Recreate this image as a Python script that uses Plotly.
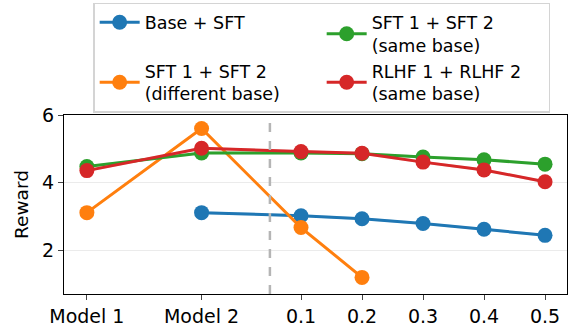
import plotly.graph_objects as go

tick_labels = ["Model 1", "Model 2", "0.1", "0.2", "0.3", "0.4", "0.5"]
x_positions = [-3.51, -1.63, 0, 1, 2, 3, 4]
divider_x = -0.51

base_sft = [None, 3.12, 3.03, 2.94, 2.80, 2.63, 2.45]
sft_diff = [3.12, 5.60, 2.68, 1.21, None, None, None]
sft_same = [4.48, 4.88, 4.88, 4.86, 4.76, 4.68, 4.55]
rlhf_same = [4.36, 5.02, 4.92, 4.87, 4.61, 4.38, 4.03]
band = 0.04

series = [
    ("Base + SFT", base_sft, "#1f77b4", 1),
    ("SFT 1 + SFT 2<br>(different base)", sft_diff, "#ff7f0e", 3),
    ("SFT 1 + SFT 2<br>(same base)", sft_same, "#2ca02c", 2),
    ("RLHF 1 + RLHF 2<br>(same base)", rlhf_same, "#d62728", 4),
]

def rgba(h, a):
    h = h.lstrip("#")
    return f"rgba({int(h[0:2],16)},{int(h[2:4],16)},{int(h[4:6],16)},{a})"

fig = go.Figure()
for name, ys, col, rank in series:
    xs = [x for x, y in zip(x_positions, ys) if y is not None]
    yv = [y for y in ys if y is not None]
    fig.add_trace(go.Scatter(x=xs + xs[::-1],
                             y=[y + band for y in yv] + [y - band for y in yv[::-1]],
                             fill="toself", fillcolor=rgba(col, 0.2), line=dict(width=0),
                             hoverinfo="skip", showlegend=False))
    fig.add_trace(go.Scatter(x=xs, y=yv, mode="lines+markers", name=name,
                             legendrank=rank,
                             line=dict(color=col, width=3),
                             marker=dict(color=col, size=15)))

fig.add_vline(x=divider_x, line=dict(color="#b5b5b5", width=2.5, dash="dash"))

font = "DejaVu Sans"
fig.update_layout(
    width=568, height=332,
    margin=dict(l=64, r=1, t=115, b=38),
    paper_bgcolor="white", plot_bgcolor="white",
    font=dict(family=font, size=18, color="black"),
    showlegend=True,
    legend=dict(orientation="h", x=0.058, y=1.626, xanchor="left", yanchor="top",
                entrywidth=172, itemwidth=40,
                bgcolor="white", bordercolor="#d4d4d4", borderwidth=1.5,
                font=dict(family=font, size=17.5), tracegroupgap=0),
    xaxis=dict(range=[-3.885, 4.36], tickvals=x_positions, ticktext=tick_labels,
               showgrid=False, zeroline=False, showline=True, linecolor="black",
               linewidth=1.3, mirror=True, ticks="outside", ticklen=5, tickwidth=1.3,
               tickfont=dict(size=19)),
    yaxis=dict(range=[0.72, 6.0], tickvals=[2, 4, 6], showgrid=True, gridcolor="#ebebeb",
               gridwidth=1.3, zeroline=False, showline=True, linecolor="black",
               linewidth=1.3, mirror=True, ticks="outside", ticklen=5, tickwidth=1.3,
               tickfont=dict(size=19),
               title=dict(text="Reward", font=dict(size=18.5), standoff=8)),
)

fig.write_html("out.html")
